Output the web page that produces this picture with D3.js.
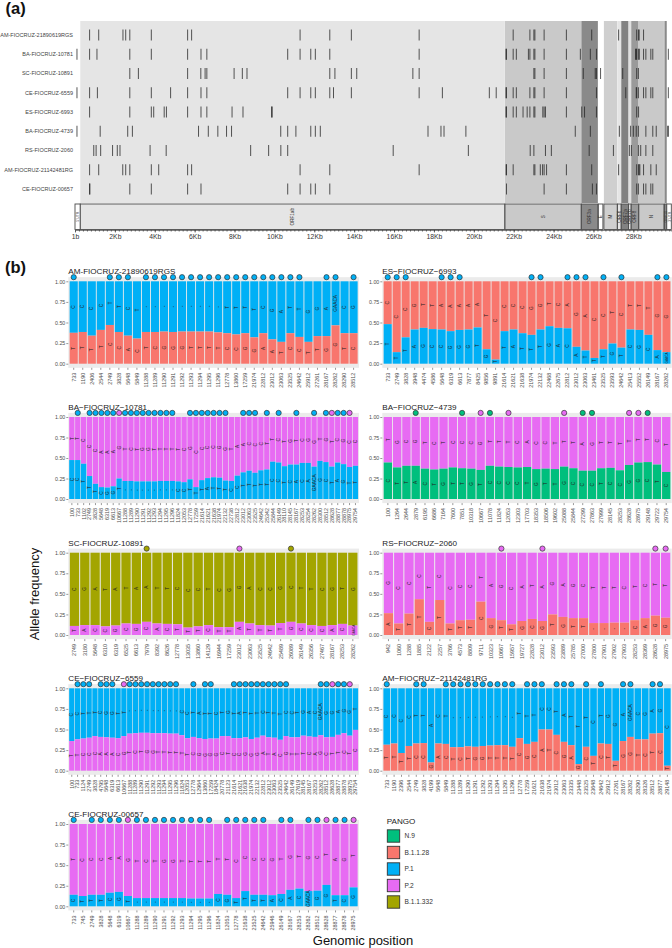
<!DOCTYPE html>
<html><head><meta charset="utf-8">
<script src="https://cdnjs.cloudflare.com/ajax/libs/d3/7.8.5/d3.min.js"></script>
<style>html,body{margin:0;padding:0;background:#fff}svg{display:block}text{font-family:"Liberation Sans",Arial,sans-serif}</style>
</head><body><svg id="c" width="672" height="948"></svg>
<script>
const LINEAGES=["N.9","B.1.1.28","P.1","P.2","B.1.1.332"];
const LINEAGE_COLORS=["#00BF7D","#F8766D","#00B0F6","#E76BF3","#A3A500"];
const DEL=[11288,11289,11290,11291,11292,11293,11294,11295,11296];

const GENE_NAMES=["5'UTR","ORF1ab","S","ORF3a","E","M","ORF6","ORF7a","ORF7b","ORF8","N","ORF10","3'UTR"];
const GENE_START=[1,266,21563,25393,26245,26523,27202,27394,27756,27894,28274,29558,29675];
const GENE_END=[265,21555,25384,26220,26472,27191,27387,27759,27887,28259,29533,29674,29903];
const GENE_FILL=["#ffffff","#e5e5e5","#c9c9c9","#8a8a8a","#ffffff","#cfcfcf","#e5e5e5","#828282","#e0e0e0","#9a9a9a","#c9c9c9","#8a8a8a","#ffffff"];
const GENOME_TICKS=[1,2000,4000,6000,8000,10000,12000,14000,16000,18000,20000,22000,24000,26000,28000];
const GENOME_TICK_LABELS=["1b","2Kb","4Kb","6Kb","8Kb","10Kb","12Kb","14Kb","16Kb","18Kb","20Kb","22Kb","24Kb","26Kb","28Kb"];
const FREQ_TICKS=[0,0.25,0.5,0.75,1];

// AM-FIOCRUZ-21890619RGS
const am1Pos=[733,1190,2406,2544,2749,3828,5648,5849,...DEL,12778,13860,17259,21974,22812,23012,23063,23525,24642,25912,27261,28167,28262,28290,28512];
const am1Low=[.375,.385,.34,.41,.47,.385,.34,.305,.385,.385,.39,.385,.39,.39,.39,.39,.38,.37,.355,.37,.32,.37,.295,.265,.37,.325,.265,.335,.335,.465,.37,.37];
const am1LowNt="T T T T C C A C T C G G G T T T T C C G G A A T C C T T G G T C".split(" ");
const am1UpNt="C C C C T T C T - - - - - - - - - T T T T C G A T T G G A GAACA C G".split(" ");
const am1DotIdx=[0,4,5,6,8,9,10,11,12,13,14,15,16,17,18,19,20,21,22,23,24,25,28,29,31];
const am1DotLin=am1DotIdx.map(()=> "P.1");

// ES-FIOCRUZ-6993
const esPos=[733,2749,3828,3948,4474,4586,5648,6319,6613,7877,8425,9856,9891,21614,21621,21638,21974,22132,22468,22675,22812,23012,23063,23461,23525,23593,24642,25413,25552,26149,28167,28262];
const esLow=[.48,.14,.32,.415,.435,.42,.415,.395,.41,.415,.44,.175,.05,.395,.415,.37,.35,.415,.455,.435,.43,.205,.16,.07,.175,.245,.195,.415,.41,.35,.165,.14];
const esLowNt="T T T A G C C G G G T G T T A T T T G A C A T T T G T C G C A GAACA".split(" ");
const esUpNt="C C C G T T A A A A A T C C C C G G T C A G A C C T C T T T G G".split(" ");
const esDotIdx=[0,1,2,6,7,8,16,17,20,21,22,24,26,30,31];
const esDotLin=esDotIdx.map(()=> "P.1");

// BA-FIOCRUZ-10781
const ba1Pos=[100,733,1102,2749,3828,5648,6319,6613,10667,...DEL,11824,12053,12778,17259,21614,21621,21638,21974,22132,22738,22812,23012,23063,23525,24642,25342,25844,26149,28110,28145,28167,28253,28254,28262,28300,28512,28628,28877,28878,28975,29754];
const ba1Low=[.475,.475,.43,.28,.185,.145,.14,.155,.25,.22,.22,.215,.215,.215,.215,.22,.22,.22,.215,.205,.24,.145,.23,.255,.265,.26,.225,.22,.285,.325,.345,.32,.35,.36,.455,.445,.40,.42,.42,.44,.44,.395,.465,.45,.395,.445,.425,.39,.405];
const ba1LowNt="C C T T T C G G T - - - - - - - - - C C T T T A T T T C C T T T T T C C T C A C A GAACA G C T A G T T".split(" ");
const ba1UpNt="T T C C C A A A G T C T G G T T T T T C G C C C C G G T A A C C C T T C T G T C G G T G T C G C C".split(" ");
const ba1DotIdx=[1,3,4,5,6,7,8,9,10,11,12,13,14,15,16,17,20,21,22,23,24,25,26,29,30,31,33,35,38,41,43,44,45,46,47];
const ba1DotLin=["P.1","P.1","P.1","P.1","P.1","P.1","P.2","P.1","P.1","P.1","P.1","P.1","P.1","P.1","P.1","P.1","P.1","P.1","P.1","P.1","P.1","P.1","P.1","P.1","P.1","P.1","P.1","P.1","P.1","P.1","P.1","P.2","P.1","P.1","P.2"];

// BA-FIOCRUZ-4739
const ba2Pos=[100,1264,2644,2879,6195,6686,7164,7600,7851,10318,10667,11078,11824,12053,12303,17703,18353,18506,19602,25088,25844,27299,27863,27999,28145,28253,28628,28975,29148,29722,29754];
const ba2Low=[.445,.385,.405,.405,.37,.36,.37,.385,.375,.37,.355,.405,.395,.39,.385,.39,.365,.37,.365,.395,.375,.345,.345,.375,.38,.35,.415,.445,.45,.42,.33];
const ba2LowNt="C T T A C T G T T G T C C C C T G T T G C C C T C C G G C T C".split(" ");
const ba2UpNt="T G C G T C T C C C G T T T C A C C T T T A G T T T T T T C T".split(" ");
const ba2DotIdx=[3,8,10,11,13,19,21,22,26,27,28];
const ba2DotLin=["N.9","N.9","P.2","N.9","P.2","P.2","N.9","N.9","P.2","P.2","N.9"];

// SC-FIOCRUZ-10891
const scPos=[2749,3180,5648,6310,6319,6525,6613,7979,8392,8626,12778,13035,13860,14129,16944,17259,23012,23063,23525,24642,25489,26089,26149,26356,27467,28167,28253,28262];
const scLow=[.11,.12,.12,.105,.115,.14,.135,.16,.14,.135,.13,.09,.105,.12,.095,.095,.16,.14,.12,.115,.145,.16,.14,.12,.11,.12,.135,.115];
const scLowNt="T A C C G C G C A C T T T C T T A T T T T G C C C A C GAACA".split(" ");
const scUpNt="C G A T A T A A T T C C C T C G G A C C G C T T C G T G".split(" ");
const scDotIdx=[7,16,21];
const scDotLin=["B.1.1.332","P.2","B.1.1.332"];

// RS-FIOCRUZ-2060
const rsPos=[942,1060,1288,1885,2122,2257,3766,4573,8809,9711,10323,10667,15957,19727,22828,23012,23593,23889,25785,27000,27800,27901,27902,27903,28253,28369,28628,28975];
const rsLow=[.265,.14,.26,.435,.16,.425,.14,.18,.185,.405,.205,.18,.13,.17,.195,.17,.25,.22,.205,.205,.145,.145,.15,.15,.18,.205,.235,.21];
const rsLowNt="A T T T C T T T T C G T T G C G T G T T - - - - C A G G".split(" ");
const rsUpNt="G C C C T C C C C T A G C A T A G A G C T T T C T C T T".split(" ");
const rsDotIdx=[11,15,26,27];
const rsDotLin=rsDotIdx.map(()=> "P.2");

// CE-FIOCRUZ-6559
const ce1Pos=[100,733,1124,2749,3828,4795,5648,6319,6613,10667,...DEL,11824,12053,12778,12964,13860,17259,18424,20778,21123,21614,21621,21638,21974,22132,22812,23012,23063,23525,24642,26149,27619,28145,28167,28253,28262,28512,28628,28877,28878,28975,29754];
const ce1Low=[.36,.38,.39,.40,.42,.41,.405,.40,.395,.42,.45,.455,.46,.46,.455,.455,.455,.45,.45,.43,.395,.41,.395,.385,.39,.39,.42,.42,.395,.395,.405,.385,.40,.425,.405,.40,.375,.42,.405,.405,.425,.415,.41,.43,.405,.41,.435,.455,.425,.495];
const ce1LowNt="T T C C C A A A C G T C T G G T T T T T T C G G G G C T C C G G G A T A C G T T T C A G C T T C T C".split(" ");
const ce1UpNt="C C T T T C G G T T - - - - - - - - - C C T A T T C T G T A T T T C T T T C C T G A C GAACA G G A G G T".split(" ");
const ce1DotIdx=[1,2,3,5,6,7,9,10,11,12,13,14,15,16,17,18,21,23,24,28,29,30,31,32,33,34,35,36,37,43,44,45,46,47,48];
const ce1DotLin=ce1DotIdx.map(i=>(i===9||i===45||i===48)?"P.2":"P.1");

// AM-FIOCRUZ-21142481RG
const am2Pos=[733,1190,2396,2544,2749,3828,4199,5648,5849,...DEL,12778,17259,21621,21638,21974,23012,23063,23335,23448,23525,23648,24642,25912,27261,28167,28262,28290,28326,28512,28877,29148];
const am2Low=[.315,.33,.215,.30,.33,.335,.10,.33,.325,.285,.285,.295,.29,.30,.305,.31,.31,.29,.395,.325,.35,.50,.50,.435,.35,.31,.08,.29,.18,.33,.325,.12,.36,.41,.38,.38,.45,.455,.06];
const am2LowNt="T T T T C C G A C T C T G G T T T T C G C A T C G A G C T C T T G G T C T C T".split(" ");
const am2UpNt="C C C C T T A C T - - - - - - - - - T T T C C T A T T T C T G G A GAACA C G A G C".split(" ");
const am2DotIdx=[0,4,5,8,9,10,11,12,13,14,15,16,17,19,20,21,23,24,25,27,29,32,33,36,37];
const am2DotLin=am2DotIdx.map(()=> "P.1");

// CE-FIOCRUZ-00657
const ce2Pos=[733,745,2749,3828,5648,6319,10667,...DEL,11824,12053,12778,21638,23525,24642,25946,26149,28167,28253,28262,28512,28628,28877,28878,28975];
const ce2Low=[.14,.125,.14,.14,.165,.175,.125,.10,.10,.10,.10,.10,.10,.095,.095,.095,.15,.14,.10,.185,.14,.14,.135,.15,.20,.215,.185,.19,.26,.135,.135,.23];
const ce2LowNt="C T T T C G T - - - - - - - - - C G T T T T A C A C GAACA G G T C G".split(" ");
const ce2UpNt="T C C C A A G T C T G G T T T T T T C C C C G T G T G C T A G T".split(" ");
const ce2DotIdx=[0,2,3,4,5,6,7,8,9,10,11,12,13,14,15,17,18,19,20,21,23,24,26,27,28,29,30,31];
const ce2DotLin=ce2DotIdx.map(i=>(i===6||i===28||i===31)?"P.2":"P.1");

const color=d3.scaleOrdinal(LINEAGES,LINEAGE_COLORS);
const sel=d3.select("#c");

// ---------- Panel (a) ----------
const xG=d3.scaleLinear().domain([1,29903]).range([75,671.3]);
const ROW_NAMES=["AM-FIOCRUZ-21890619RGS","BA-FIOCRUZ-10781","SC-FIOCRUZ-10891","CE-FIOCRUZ-6559","ES-FIOCRUZ-6993","BA-FIOCRUZ-4739","RS-FIOCRUZ-2060","AM-FIOCRUZ-21142481RG","CE-FIOCRUZ-00657"];
const ROW_POS=[am1Pos,ba1Pos,scPos,ce1Pos,esPos,ba2Pos,rsPos,am2Pos,ce2Pos];
const yRow=d3.scalePoint().domain(ROW_NAMES).range([35,189]);
sel.append("text").text("(a)").attr("x",5.5).attr("y",14).attr("font-size",16.5).attr("font-weight","bold").attr("fill","#111");
const genes=GENE_NAMES.map((n,i)=>({n,s:GENE_START[i],e:GENE_END[i],f:GENE_FILL[i]}));
const gA=sel.append("g");
gA.selectAll("rect.band").data(genes.slice(1,12)).join("rect")
  .attr("x",d=>xG(d.s)).attr("width",d=>xG(d.e+1)-xG(d.s)).attr("y",21).attr("height",182).attr("fill",d=>d.f);
ROW_NAMES.forEach((nm,r)=>{
  gA.append("text").text(nm).attr("x",73).attr("y",yRow(nm)+1.9).attr("text-anchor","end").attr("font-size",5.5).attr("fill","#444");
  const marks=ROW_POS[r].filter((d,i,a)=>i===0||d-a[i-1]>9);
  gA.selectAll(null).data(marks).join("line")
    .attr("x1",d=>xG(d)).attr("x2",d=>xG(d)).attr("y1",yRow(nm)-5.5).attr("y2",yRow(nm)+5.5)
    .attr("stroke","#222").attr("stroke-width",0.9).attr("stroke-opacity",.85);
});
gA.selectAll("rect.gene").data(genes).join("rect").attr("class","gene")
  .attr("x",d=>xG(d.s)).attr("width",d=>xG(d.e+1)-xG(d.s)).attr("y",204).attr("height",25.5)
  .attr("fill",d=>d.f).attr("stroke","#4a4a4a").attr("stroke-width",0.9);
gA.selectAll("text.gene").data(genes).join("text").attr("class","gene")
  .text(d=>d.n).attr("font-size",d=>(d.n==="5'UTR"||d.n==="3'UTR"||d.n==="ORF10")?3.6:4.6).attr("fill","#333").attr("text-anchor","middle")
  .attr("transform",d=>`translate(${(xG(d.s)+xG(d.e+1))/2+1.6},216.7) rotate(-90)`);
const axMinor=d3.axisBottom(xG).tickValues(d3.range(200,29903,200)).tickSize(1.6).tickFormat("");
const gMinor=sel.append("g").attr("transform","translate(0,230)").call(axMinor);
gMinor.select(".domain").attr("stroke","#333").attr("stroke-width",.6);
gMinor.selectAll(".tick line").attr("stroke","#333").attr("stroke-width",.6);
const axMajor=d3.axisBottom(xG).tickValues(GENOME_TICKS).tickSize(2.5).tickPadding(1.6).tickFormat((d,i)=>GENOME_TICK_LABELS[i]);
const gMajor=sel.append("g").attr("transform","translate(0,230)").call(axMajor);
gMajor.select(".domain").remove();
gMajor.selectAll(".tick line").attr("stroke","#333").attr("stroke-width",.7);
gMajor.selectAll("text").attr("font-size",6.8).attr("fill","#333").style("font-family",'"Liberation Sans",Arial,sans-serif');

// ---------- Panel (b) ----------
sel.append("text").text("(b)").attr("x",5).attr("y",272.5).attr("font-size",16.5).attr("font-weight","bold").attr("fill","#111");
const COL_X=[[68.3,359],[382.3,671.8]];
const ROW_Y=[[281.3,363.7],[417,499],[552.7,635],[688.3,770.7],[824,906.3]];
const PANELS=[
 {t:"AM-FIOCRUZ-21890619RGS",c:0,r:0,pos:am1Pos,low:am1Low,ln:am1LowNt,un:am1UpNt,lo:"B.1.1.28",hi:"P.1",di:am1DotIdx,dl:am1DotLin},
 {t:"ES\u2212FIOCRUZ\u22126993",c:1,r:0,pos:esPos,low:esLow,ln:esLowNt,un:esUpNt,lo:"P.1",hi:"B.1.1.28",di:esDotIdx,dl:esDotLin},
 {t:"BA\u2212FIOCRUZ\u221210781",c:0,r:1,pos:ba1Pos,low:ba1Low,ln:ba1LowNt,un:ba1UpNt,lo:"P.1",hi:"P.2",di:ba1DotIdx,dl:ba1DotLin},
 {t:"BA\u2212FIOCRUZ\u22124739",c:1,r:1,pos:ba2Pos,low:ba2Low,ln:ba2LowNt,un:ba2UpNt,lo:"N.9",hi:"P.2",di:ba2DotIdx,dl:ba2DotLin},
 {t:"SC-FIOCRUZ-10891",c:0,r:2,pos:scPos,low:scLow,ln:scLowNt,un:scUpNt,lo:"P.2",hi:"B.1.1.332",di:scDotIdx,dl:scDotLin},
 {t:"RS\u2212FIOCRUZ\u22122060",c:1,r:2,pos:rsPos,low:rsLow,ln:rsLowNt,un:rsUpNt,lo:"B.1.1.28",hi:"P.2",di:rsDotIdx,dl:rsDotLin},
 {t:"CE\u2212FIOCRUZ\u22126559",c:0,r:3,pos:ce1Pos,low:ce1Low,ln:ce1LowNt,un:ce1UpNt,lo:"P.2",hi:"P.1",di:ce1DotIdx,dl:ce1DotLin},
 {t:"AM\u2212FIOCRUZ\u221221142481RG",c:1,r:3,pos:am2Pos,low:am2Low,ln:am2LowNt,un:am2UpNt,lo:"B.1.1.28",hi:"P.1",di:am2DotIdx,dl:am2DotLin},
 {t:"CE-FIOCRUZ-00657",c:0,r:4,pos:ce2Pos,low:ce2Low,ln:ce2LowNt,un:ce2UpNt,lo:"P.1",hi:"P.2",di:ce2DotIdx,dl:ce2DotLin},
];
PANELS.forEach(p=>{
  const [xl,xr]=COL_X[p.c],[yt,yb]=ROW_Y[p.r];
  const unit=yb-yt;
  const y=d3.scaleLinear().domain([0,1]).range([yb,yt]);
  const x=d3.scaleBand().domain(d3.range(p.pos.length)).range([xl,xr]).paddingInner(.1).paddingOuter(.15);
  const g=sel.append("g");
  g.append("rect").attr("x",xl).attr("width",xr-xl).attr("y",y(1.05)).attr("height",y(-0.05)-y(1.05)).attr("fill","#ebebeb");
  g.append("text").text(p.t).attr("x",xl).attr("y",yt-7).attr("font-size",8.1).attr("fill","#222");
  const rows=p.low.map((v,i)=>({i,v}));
  g.selectAll(null).data(rows).join("rect").attr("x",d=>x(d.i)).attr("width",x.bandwidth())
    .attr("y",yt).attr("height",d=>y(d.v)-yt).attr("fill",color(p.hi));
  g.selectAll(null).data(rows).join("rect").attr("x",d=>x(d.i)).attr("width",x.bandwidth())
    .attr("y",d=>y(d.v)).attr("height",d=>yb-y(d.v)).attr("fill",color(p.lo));
  const lab=(ny,nt,seg)=>g.append("text").text(nt)
    .attr("font-size",nt.length>1?(seg*unit<14?3.2:4.8):4.8).attr("fill","#222").attr("text-anchor","middle")
    .attr("transform",`translate(${ny[0]},${ny[1]}) rotate(-90)`);
  rows.forEach(d=>{
    const cx=x(d.i)+x.bandwidth()/2+1.7;
    lab([cx,y(d.v/2)],p.ln[d.i],d.v);
    lab([cx,y(d.v+(1-d.v)/2)],p.un[d.i],1-d.v);
  });
  const ay=d3.axisLeft(y).tickValues(FREQ_TICKS).tickSize(2).tickPadding(1).tickFormat(d3.format(".2f"));
  const gy=g.append("g").attr("transform",`translate(${xl},0)`).call(ay);
  gy.select(".domain").remove();
  gy.selectAll("line").attr("stroke","#333").attr("stroke-width",.5);
  gy.selectAll("text").attr("font-size",5.3).attr("fill","#4d4d4d").style("font-family",'"Liberation Sans",Arial,sans-serif');
  const ax=d3.axisBottom(x).tickSize(2).tickPadding(1).tickFormat(i=>p.pos[i]);
  const gx=g.append("g").attr("transform",`translate(0,${y(-0.05)})`).call(ax);
  gx.select(".domain").remove();
  gx.selectAll("line").attr("stroke","#333").attr("stroke-width",.5);
  gx.selectAll("text").attr("font-size",5.4).attr("fill","#4d4d4d").attr("text-anchor","end").attr("dy",0)
    .style("font-family",'"Liberation Sans",Arial,sans-serif')
    .attr("y",0).attr("x",0).attr("transform","translate(1.9,5) rotate(-90)");
  g.selectAll(null).data(p.di).join("circle").attr("cx",d=>x(d)+x.bandwidth()/2).attr("cy",y(1.05)).attr("r",2.6)
    .attr("fill",(d,k)=>color(p.dl[k])).attr("stroke","#333").attr("stroke-width",.7);
});

// ---------- Axis titles ----------
sel.append("text").text("Allele frequency").attr("font-size",13).attr("fill","#111").attr("text-anchor","middle")
  .attr("transform","translate(39,594) rotate(-90)");
sel.append("text").text("Genomic position").attr("font-size",13).attr("fill","#111").attr("text-anchor","middle").attr("x",363).attr("y",945);

// ---------- Legend ----------
const yLeg=d3.scalePoint().domain(LINEAGES).range([836,902]);
sel.append("text").text("PANGO").attr("x",386.7).attr("y",824).attr("font-size",8.1).attr("fill","#222");
LINEAGES.forEach(l=>{
  sel.append("rect").attr("x",387.3).attr("y",yLeg(l)-6.2).attr("width",12.4).attr("height",12.4).attr("fill",color(l)).attr("stroke","#333").attr("stroke-width",.9);
  sel.append("text").text(l).attr("x",404.6).attr("y",yLeg(l)+2.4).attr("font-size",6.6).attr("fill","#333");
});
</script></body></html>
